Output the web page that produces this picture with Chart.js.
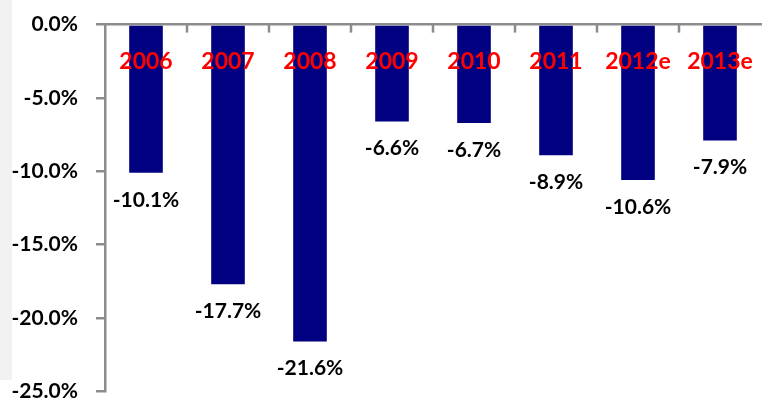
<!DOCTYPE html>
<html>
<head>
<meta charset="utf-8">
<script src="https://cdn.jsdelivr.net/npm/chart.js@4/dist/chart.umd.min.js"></script>
<style>
  html, body { margin: 0; padding: 0; background: #fff; overflow: hidden; }
  #strip { position: absolute; left: 0; top: 0; width: 12px; height: 380px; background: #f2f2f2; }
  #wrap { position: absolute; left: 0; top: -6px; width: 763px; height: 428px; }
</style>
</head>
<body>
<div id="strip"></div>
<div id="wrap"><canvas id="chart"></canvas></div>
<script>
const years = ['2006', '2007', '2008', '2009', '2010', '2011', '2012e', '2013e'];
const change = [-10.1, -17.7, -21.6, -6.6, -6.7, -8.9, -10.6, -7.9];
const yTicks = [0, -5, -10, -15, -20, -25];

const FONT = 'Lato, "Open Sans", sans-serif';
const AXIS = '#8c8c8c';

// red year labels inside the plot, value labels under each bar, inward ticks on the top axis
const labelsPlugin = {
  id: 'labels',
  afterDatasetsDraw(chart) {
    const { ctx, scales: { x, y }, chartArea } = chart;
    ctx.save();
    ctx.textAlign = 'center';
    ctx.textBaseline = 'middle';
    ctx.font = 'bold 23px ' + FONT;
    ctx.fillStyle = '#ff0000';
    years.forEach((yr, i) => ctx.fillText(yr, x.getPixelForValue(i), y.getPixelForValue(-2.5)));
    ctx.font = 'bold 21px ' + FONT;
    ctx.fillStyle = '#000';
    change.forEach((v, i) => ctx.fillText(v.toFixed(1) + '%', x.getPixelForValue(i), y.getPixelForValue(v) + 27));
    // boundary ticks pointing down from the top axis
    ctx.strokeStyle = AXIS;
    ctx.lineWidth = 2.5;
    const step = x.getPixelForValue(1) - x.getPixelForValue(0);
    for (let i = 1; i < years.length; i++) {
      const px = Math.round(x.getPixelForValue(i) - step / 2);
      ctx.beginPath();
      ctx.moveTo(px, chartArea.top);
      ctx.lineTo(px, chartArea.top + 8);
      ctx.stroke();
    }
    ctx.restore();
  }
};

new Chart(document.getElementById('chart'), {
  type: 'bar',
  data: {
    labels: years,
    datasets: [{ data: change, backgroundColor: '#000080', categoryPercentage: 1, barPercentage: 0.41 }],
  },
  options: {
    responsive: true,
    maintainAspectRatio: false,
    animation: false,
    layout: { padding: { top: 15, right: 2, left: 0, bottom: 0 } },
    plugins: { legend: { display: false }, tooltip: { enabled: false } },
    scales: {
      x: {
        position: 'top',
        grid: { display: false },
        ticks: { display: false },
        border: { color: AXIS, width: 2.5 },
        afterFit: s => { s.height = 0; },
      },
      y: {
        min: -25,
        max: 0,
        afterBuildTicks: s => { s.ticks = yTicks.map(v => ({ value: v })); },
        afterFit: s => { s.width = 105; },
        grid: { drawOnChartArea: false, color: AXIS, lineWidth: 2.5, tickLength: 9 },
        border: { color: AXIS, width: 2.5 },
        ticks: {
          padding: 18,
          color: '#000',
          font: { family: FONT, size: 21, weight: 'bold' },
          callback: v => v.toFixed(1) + '%',
        },
      },
    },
  },
  plugins: [labelsPlugin],
});
</script>
</body>
</html>
